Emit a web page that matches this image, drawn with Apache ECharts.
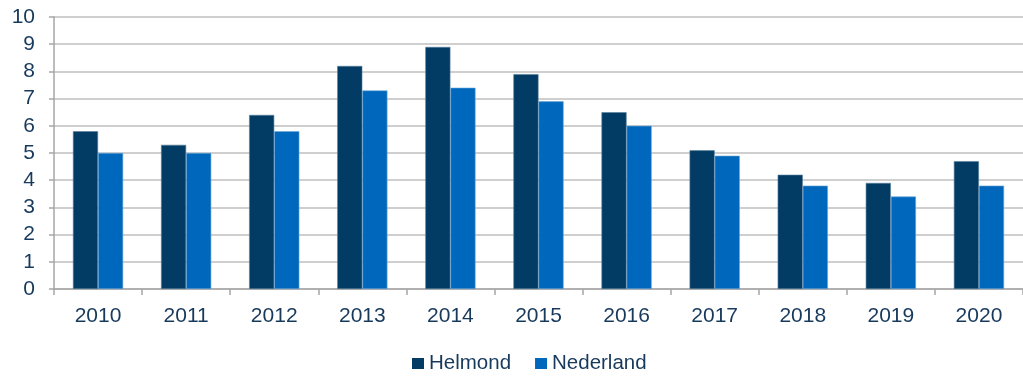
<!DOCTYPE html>
<html>
<head>
<meta charset="utf-8">
<script src="https://cdn.jsdelivr.net/npm/echarts@6/dist/echarts.min.js"></script>
<style>
  html, body { margin: 0; padding: 0; background: #ffffff; }
  #chart { width: 1023px; height: 376px; }
</style>
</head>
<body>
<div id="chart"></div>
<script>
const years = ['2010', '2011', '2012', '2013', '2014', '2015', '2016', '2017', '2018', '2019', '2020'];
const helmond = [5.8, 5.3, 6.4, 8.2, 8.9, 7.9, 6.5, 5.1, 4.2, 3.9, 4.7];
const nederland = [5.0, 5.0, 5.8, 7.3, 7.4, 6.9, 6.0, 4.9, 3.8, 3.4, 3.8];

const textColor = '#17395c';
const gridColor = '#bfbfbf';
const axisColor = '#a6a6a6';

const chart = echarts.init(document.getElementById('chart'));
chart.setOption({
  animation: false,
  textStyle: { fontFamily: 'Liberation Sans, Arial, sans-serif' },
  grid: { left: 54, right: -3, top: 17, bottom: 87, containLabel: false },
  legend: {
    top: 353,
    left: 412,
    padding: 0,
    itemWidth: 12,
    itemHeight: 11,
    itemGap: 24,
    icon: 'rect',
    itemStyle: { borderWidth: 0 },
    textStyle: { fontSize: 20.5, color: textColor },
    data: ['Helmond', 'Nederland']
  },
  xAxis: {
    type: 'category',
    data: years,
    axisLine: { lineStyle: { color: axisColor, width: 1.5 } },
    axisTick: { show: true, length: 6, lineStyle: { color: axisColor, width: 1.5 } },
    axisLabel: { fontSize: 21, color: textColor, margin: 17 }
  },
  yAxis: {
    type: 'value',
    min: 0,
    max: 10,
    interval: 1,
    axisLine: { show: true, lineStyle: { color: axisColor, width: 1.5 } },
    axisTick: { show: true, length: 5, lineStyle: { color: axisColor, width: 1.5 } },
    axisLabel: { fontSize: 21, color: textColor, margin: 19 },
    splitLine: { lineStyle: { color: gridColor, width: 1.5 } }
  },
  series: [
    {
      name: 'Helmond',
      type: 'bar',
      data: helmond,
      barGap: '0%',
      barCategoryGap: '43%',
      itemStyle: { color: '#023c64', borderColor: '#5a7f9c', borderWidth: 0.6 }
    },
    {
      name: 'Nederland',
      type: 'bar',
      data: nederland,
      barGap: '0%',
      barCategoryGap: '43%',
      itemStyle: { color: '#0068bc', borderColor: '#6aa4d6', borderWidth: 0.6 }
    }
  ]
});
</script>
</body>
</html>
